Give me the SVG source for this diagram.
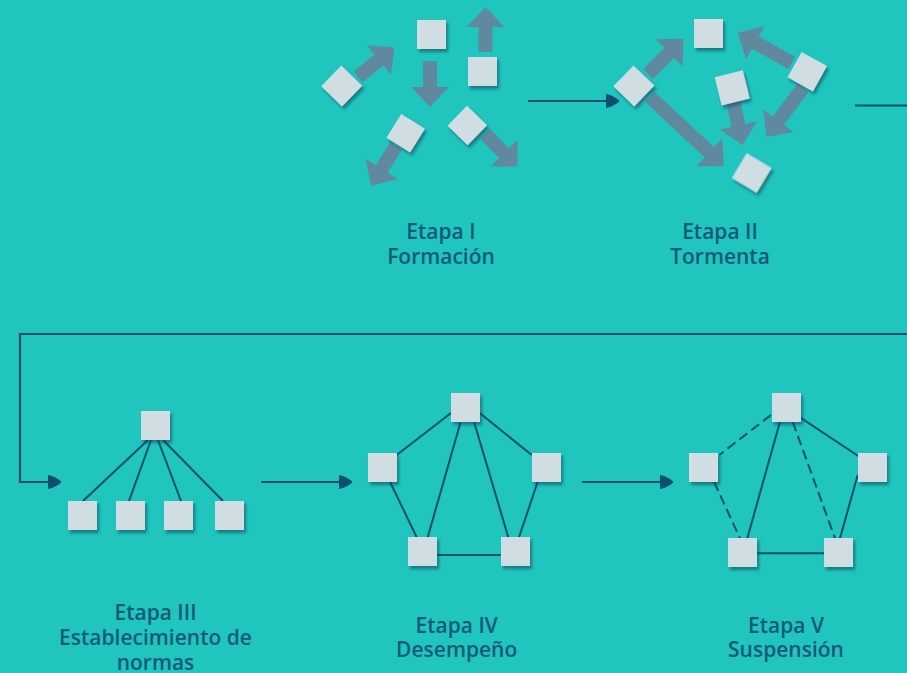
<svg xmlns="http://www.w3.org/2000/svg" width="907" height="673" viewBox="0 0 907 673">
<defs>
<style>
.bg{fill:#20c5bd}
.sq{fill:#d0dde3}
.ar{fill:#6089a0}
.ln{stroke:#0d4f6c;stroke-width:2;fill:none}
.ds{stroke-dasharray:10 5}
.cn{stroke:#0d4f6c;stroke-width:2.2;fill:none}
.tx{font-family:"Open Sans","Noto Sans","Liberation Sans",sans-serif;font-size:21px;font-weight:600;fill:#145a78;text-anchor:middle}
</style>
<filter id="sh" x="-30%" y="-30%" width="170%" height="170%">
<feDropShadow dx="2" dy="3" stdDeviation="1.6" flood-color="#0a4a5c" flood-opacity="0.6"/>
</filter>
<marker id="ah" viewBox="0 -7 14 14" refX="13" refY="0" markerWidth="14" markerHeight="14" markerUnits="userSpaceOnUse" orient="auto">
<path d="M0,-7 C5,-6 11,-3 13.5,0 C11,3 5,6 0,7 Z" fill="#0d4f6c"/>
</marker>
</defs>
<rect class="bg" x="0" y="0" width="907" height="673"/>

<g id="connectors">
<path class="cn" d="M528,101 H619" marker-end="url(#ah)"/>
<path class="cn" d="M855,105.5 H907"/>
<path class="cn" d="M907,334 H20 V482 H61" marker-end="url(#ah)"/>
<path class="cn" d="M261,482 H352" marker-end="url(#ah)"/>
<path class="cn" d="M582,482 H673" marker-end="url(#ah)"/>
</g>

<g id="stage1">
<g class="ar">
<path transform="translate(485.5,52) rotate(-90)" d="M0,-7 H25 V-19 L45,0 L25,19 V7 H0 Z"/>
<path transform="translate(430,61) rotate(90)" d="M0,-7 H26 V-19 L46,0 L26,19 V7 H0 Z"/>
<path transform="translate(358,77) rotate(-39)" d="M0,-7 H27 V-19 L47,0 L27,19 V7 H0 Z"/>
<path transform="translate(396,146) rotate(122)" d="M0,-7 H27 V-19 L47,0 L27,19 V7 H0 Z"/>
<path transform="translate(485,134) rotate(45)" d="M0,-7 H27 V-19 L46,0 L27,19 V7 H0 Z"/>
</g>
<g filter="url(#sh)">
<rect class="sq" x="417" y="20" width="29" height="29"/>
<rect class="sq" x="468" y="57" width="29" height="29"/>
<rect class="sq" x="-14.5" y="-14.5" width="29" height="29" transform="translate(341.7,86) rotate(44)"/>
<rect class="sq" x="-14" y="-14" width="28" height="28" transform="translate(405.7,133.3) rotate(32)"/>
<rect class="sq" x="-14" y="-14" width="28" height="28" transform="translate(467.3,125.5) rotate(44)"/>
</g>
<text class="tx" x="441" y="239">Etapa I</text>
<text class="tx" x="441" y="264">Formación</text>
</g>

<g id="stage2">
<g class="ar">
<path transform="translate(648,74) rotate(-45)" d="M0,-7 H30 V-19 L50,0 L30,19 V7 H0 Z"/>
<path transform="translate(792,63) rotate(-151)" d="M0,-7 H42 V-19 L62,0 L42,19 V7 H0 Z"/>
<path transform="translate(733,100) rotate(78)" d="M0,-7 H26 V-19 L46,0 L26,19 V7 H0 Z"/>
<path transform="translate(803,88) rotate(127)" d="M0,-7 H41 V-19 L61,0 L41,19 V7 H0 Z"/>
<path transform="translate(650,97) rotate(43)" d="M0,-7 H81 V-19 L101,0 L81,19 V7 H0 Z"/>
</g>
<g filter="url(#sh)">
<rect class="sq" x="694" y="19" width="29" height="29"/>
<rect class="sq" x="-14.5" y="-14.5" width="29" height="29" transform="translate(633.9,85.9) rotate(44)"/>
<rect class="sq" x="-14.5" y="-14.5" width="29" height="29" transform="translate(732.2,87.9) rotate(-14)"/>
<rect class="sq" x="-14.5" y="-14.5" width="29" height="29" transform="translate(807.3,71.7) rotate(29)"/>
<rect class="sq" x="-14.5" y="-14.5" width="29" height="29" transform="translate(751.7,173) rotate(31)"/>
</g>
<text class="tx" x="720" y="239">Etapa II</text>
<text class="tx" x="720" y="264">Tormenta</text>
</g>

<g id="stage3">
<path class="ln" d="M148,440 L83,501 M151,440 L129,501 M158,440 L181,501 M163,440 L223,501"/>
<g filter="url(#sh)">
<rect class="sq" x="141" y="411" width="29" height="29"/>
<rect class="sq" x="68" y="501" width="29" height="29"/>
<rect class="sq" x="116" y="501" width="29" height="29"/>
<rect class="sq" x="164" y="501" width="29" height="29"/>
<rect class="sq" x="215" y="501" width="29" height="29"/>
</g>
<text class="tx" x="155.5" y="620">Etapa III</text>
<text class="tx" x="155.5" y="645">Establecimiento de</text>
<text class="tx" x="155.5" y="670">normas</text>
</g>

<g id="stage4">
<path class="ln" d="M451,413 L396.7,455 M460.7,421.7 L427.7,537.3 M474,421.7 L508.3,537.3 M480,413.3 L531.7,455 M390,481.7 L416.7,537.3 M537.7,481.7 L519,537.3 M436.7,555 L500.7,555"/>
<g filter="url(#sh)">
<rect class="sq" x="451" y="393" width="29" height="29"/>
<rect class="sq" x="368" y="453" width="29" height="29"/>
<rect class="sq" x="532" y="453" width="29" height="29"/>
<rect class="sq" x="408" y="537" width="29" height="29"/>
<rect class="sq" x="501" y="537" width="29" height="29"/>
</g>
<text class="tx" x="456.7" y="633">Etapa IV</text>
<text class="tx" x="456.7" y="657">Desempeño</text>
</g>

<g id="stage5">
<path class="ln ds" d="M771,415 L719.3,455 M792.7,421.7 L835,538.3 M714,481.7 L740,538.3"/>
<path class="ln" d="M780,421.7 L747.3,538.3 M800,417.3 L858.3,456 M857.7,475 L840,538.3 M757.3,553.3 L824,553.3"/>
<g filter="url(#sh)">
<rect class="sq" x="772" y="393" width="29" height="29"/>
<rect class="sq" x="689" y="453" width="29" height="29"/>
<rect class="sq" x="858" y="453" width="29" height="29"/>
<rect class="sq" x="728" y="538" width="29" height="29"/>
<rect class="sq" x="824" y="538" width="29" height="29"/>
</g>
<text class="tx" x="786" y="633">Etapa V</text>
<text class="tx" x="786" y="657">Suspensión</text>
</g>
</svg>
